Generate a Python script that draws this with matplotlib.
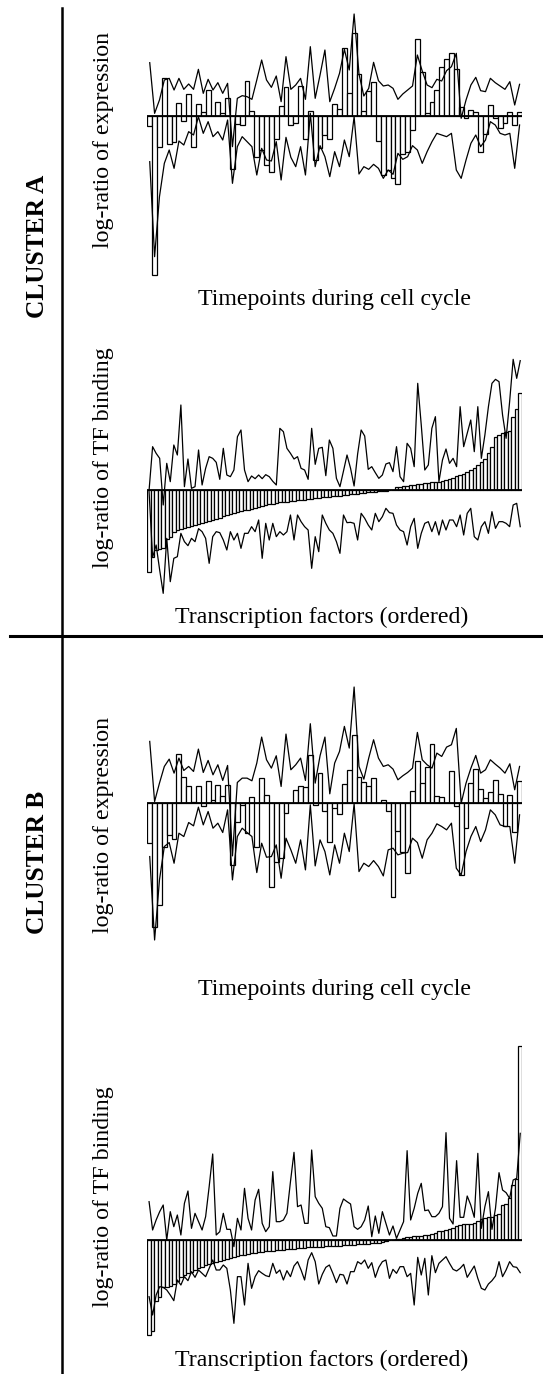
import numpy as np
import matplotlib.pyplot as plt
from matplotlib.lines import Line2D

plt.rcParams['font.family'] = ['Liberation Serif', 'DejaVu Serif']

# ---- cluster A, expression over 77 timepoints ----
a_expr = [-0.30, -4.77, -0.92, 1.15, -0.84, -0.79, 0.40, -0.15, 0.65, -0.92,
          0.36, 0.13, 0.77, 0.00, 0.43, 0.10, 0.54, -1.60, -0.24, -0.27,
          1.06, 0.16, -1.22, -1.02, -1.47, -1.67, -0.70, 0.30, 0.86, -0.27,
          -0.22, 0.90, -0.70, 0.15, -1.32, -0.97, -0.57, -0.70, 0.35, 0.21,
          2.03, 0.68, 2.48, 1.26, 0.16, 0.75, 1.02, -0.75, -1.77, -1.62,
          -1.87, -2.05, -1.14, -1.07, -0.42, 2.31, 1.33, 0.08, 0.43, 0.78,
          1.46, 1.71, 1.90, 1.40, 0.26, -0.07, 0.18, 0.11, -1.09, -0.54,
          0.32, -0.05, -0.37, -0.20, 0.13, -0.28, 0.11]
a_expr_hi = [1.60, 0.08, 0.48, 1.08, 1.13, 0.78, 1.13, 0.80, 0.96, 0.80,
             1.40, 0.68, 1.10, 0.78, 1.00, 0.68, 0.98, -0.92, 0.53, 0.61,
             0.58, 0.50, 1.08, 1.68, 1.08, 0.86, 1.20, 0.43, 1.78, 0.80,
             0.93, 1.13, 0.50, 2.08, 0.53, 1.23, 1.98, 0.43, 0.83, 1.28,
             2.00, 1.38, 3.06, 1.26, 0.60, 0.83, 1.61, 1.06, 0.90, 0.93,
             0.83, 0.50, 0.66, 0.78, 0.90, 1.83, 1.35, 0.93, 0.85, 1.10,
             1.05, 1.36, 1.48, 1.88, -0.07, 0.48, 0.93, 1.16, 0.76, 0.73,
             1.13, 1.00, 0.90, 0.80, 1.03, 0.33, 0.95]
a_expr_lo = [-1.37, -4.22, -2.42, -1.42, -1.02, -1.57, -0.75, -0.87, -0.47, -0.57,
             -0.02, -0.52, -0.17, -0.62, -0.47, -0.72, -0.12, -2.02, -0.92, -0.62,
             -0.77, -0.92, -1.77, -0.97, -1.32, -1.35, -0.77, -1.92, -0.64, -1.24,
             -1.52, -0.92, -1.77, 0.08, -1.52, -0.89, -1.22, -1.82, -1.07, -1.52,
             -0.72, -1.22, -0.02, -1.74, -1.52, -1.60, -1.45, -1.57, -1.87, -1.62,
             -1.75, -1.12, -1.30, -1.22, -0.89, -1.02, -1.42, -1.07, -0.77, -0.52,
             -0.57, -0.62, -0.52, -1.62, -1.87, -1.32, -0.82, -0.57, -0.92, -0.72,
             -0.17, -0.27, -0.52, -0.57, -0.52, -1.57, -0.27]

# ---- cluster A, TF binding over 106 ordered factors ----
a_tf = [-2.46, -2.00, -1.80, -1.76, -1.72, -1.47, -1.40, -1.24, -1.20, -1.17,
        -1.14, -1.11, -1.08, -1.05, -1.02, -0.99, -0.96, -0.93, -0.90, -0.86,
        -0.82, -0.78, -0.74, -0.70, -0.67, -0.64, -0.62, -0.60, -0.58, -0.56,
        -0.54, -0.51, -0.48, -0.45, -0.42, -0.40, -0.38, -0.36, -0.35, -0.34,
        -0.33, -0.31, -0.30, -0.29, -0.28, -0.26, -0.25, -0.23, -0.22, -0.21,
        -0.20, -0.19, -0.18, -0.17, -0.16, -0.14, -0.13, -0.12, -0.11, -0.10,
        -0.08, -0.07, -0.06, -0.05, -0.04, -0.02, -0.01, -0.005, 0.00, 0.01,
        0.10, 0.11, 0.12, 0.14, 0.15, 0.17, 0.18, 0.20, 0.21, 0.22,
        0.24, 0.25, 0.26, 0.28, 0.30, 0.33, 0.38, 0.42, 0.46, 0.50,
        0.56, 0.62, 0.68, 0.76, 0.84, 0.95, 1.12, 1.30, 1.60, 1.66,
        1.72, 1.76, 1.78, 2.20, 2.45, 2.92]
a_tf_hi = [0.00, 1.31, 1.11, 0.96, -0.44, 0.81, 0.26, 1.36, 1.06, 2.56,
           0.11, 0.94, 0.06, 0.11, 1.21, 0.16, 0.66, 1.01, 0.96, 0.84,
           0.33, 1.26, 0.46, 0.41, 0.61, 1.61, 1.81, 0.61, 0.26, 0.43,
           0.35, 0.46, 0.35, 0.47, 0.41, 0.27, 0.16, 1.86, 1.76,
           1.26, 1.11, 0.94, 1.01, 0.66, 0.61, 0.33, 1.86, 0.78, 1.26,
           1.29, 0.44, 1.51, 1.26, 0.36, 0.11, 0.58, 1.06, 0.66, 0.13,
           1.09, 1.81, 1.63, 0.63, 0.71, 0.53, 0.36, 0.46, 0.79, 0.83,
           0.56, 1.31, 0.41, 0.26, 1.41, 1.26, 0.71, 3.21, 1.96, 0.61,
           0.76, 1.86, 2.21, 0.26, 0.91, 1.24, 0.81, 0.96, 0.71, 2.51,
           1.31, 1.71, 2.11, 1.16, 2.51, 0.96, 1.66, 2.51, 3.21, 3.33,
           3.26, 2.26, 1.56, 2.66, 3.93, 3.36, 3.89]
a_tf_lo = [-0.04, -2.01, -1.64, -2.39, -3.09, -1.44, -2.74, -2.04, -1.99, -1.29,
           -1.54, -1.66, -1.44, -1.54, -1.15, -1.24, -1.44, -2.19, -1.39, -1.24,
           -1.27, -1.49, -1.79, -1.24, -1.49, -1.29, -1.74, -1.29, -1.29, -1.09,
           -1.24, -0.89, -2.04, -0.99, -1.49, -0.99, -1.39, -1.24, -1.34, -1.24,
           -0.74, -1.49, -0.74, -0.94, -1.09, -1.19, -2.34, -1.39, -1.84, -0.74,
           -0.99, -1.19, -1.29, -1.54, -1.89, -0.74, -0.97, -0.96, -0.99, -1.49,
           -0.69, -0.84, -1.04, -1.19, -0.69, -0.94, -0.79, -0.54, -0.67, -0.69,
           -1.04, -1.19, -1.24, -1.64, -1.09, -0.84, -1.74, -1.29, -0.99, -0.94,
           -1.24, -0.94, -1.34, -0.89, -1.19, -0.89, -0.89, -1.09, -0.74, -1.34,
           -0.69, -0.54, -1.39, -1.49, -1.09, -0.94, -1.29, -0.64, -1.14, -0.94,
           -0.94, -0.99, -1.09, -0.44, -0.39, -1.09]

# ---- cluster B, expression ----
b_expr = [-1.18, -3.70, -3.05, -1.32, -0.95, -1.08, 1.48, 0.78, 0.52, 0.04,
          0.50, -0.10, 0.65, 0.08, 0.55, 0.20, 0.55, -1.85, -0.55, -0.05,
          -0.90, 0.18, -1.30, 0.75, 0.23, -2.50, -1.75, -1.65, -0.28, 0.00,
          0.40, 0.52, 0.47, 1.43, -0.05, 0.90, -0.22, -1.15, -0.15, -0.33,
          0.58, 0.98, 2.04, 0.78, 0.63, 0.50, 0.75, 0.00, 0.09, -0.24,
          -2.80, -0.84, -1.45, -2.10, 0.35, 1.25, 0.60, 1.08, 1.77, 0.22,
          0.18, 0.00, 0.95, -0.08, -2.15, -0.75, 0.60, 1.02, 0.42, 0.15,
          0.33, 0.68, 0.27, -0.68, 0.25, -0.85, 0.65]
b_expr_hi = [1.85, 0.05, 0.60, 1.10, 1.32, 0.90, 1.35, 0.98, 1.10, 0.95,
             1.62, 0.92, 1.28, 0.85, 1.15, 0.68, 1.13, -1.58, 0.62, 0.75,
             0.75, 0.67, 1.20, 1.98, 1.30, 1.05, 1.42, 0.50, 2.07, 1.00,
             1.15, 1.35, 0.68, 2.38, 0.60, 1.42, 1.98, 0.28, 1.20, 1.55,
             2.30, 1.65, 3.48, 1.10, 0.72, 1.35, 1.90, 1.35, 1.10, 1.15,
             1.02, 0.70, 0.82, 0.92, 1.05, 2.12, 1.30, 1.15, 1.05, 1.50,
             1.40, 1.68, 1.75, 2.24, 0.00, 0.60, 1.05, 1.43, 0.90, 1.00,
             1.30, 1.17, 1.05, 0.90, 1.18, 0.40, 1.10]
b_expr_lo = [-1.60, -4.10, -2.30, -1.30, -1.18, -1.80, -0.90, -1.00, -0.58, -0.68,
             -0.12, -0.65, -0.25, -0.75, -0.60, -0.88, -0.20, -2.30, -1.00, -0.75,
             -0.88, -1.00, -2.08, -1.20, -1.62, -1.60, -1.25, -2.25, -1.05, -1.40,
             -1.80, -1.10, -2.00, -0.05, -1.88, -1.10, -1.45, -2.15, -1.25, -1.80,
             -0.90, -1.45, -0.02, -2.05, -1.80, -1.90, -1.72, -1.90, -2.18, -1.40,
             -1.35, -1.55, -1.50, -1.48, -1.05, -1.18, -1.65, -1.10, -0.90, -0.62,
             -0.70, -0.80, -0.60, -1.95, -2.15, -1.45, -1.00, -0.70, -1.15, -0.80,
             -0.20, -0.35, -0.65, -0.70, -0.70, -1.80, -0.35]

# ---- cluster B, TF binding ----
b_tf = [-2.85, -2.72, -1.82, -1.72, -1.42, -1.40, -1.38, -1.32, -1.22, -1.12,
        -1.06, -1.00, -0.95, -0.90, -0.85, -0.80, -0.76, -0.72, -0.68, -0.65,
        -0.62, -0.60, -0.57, -0.54, -0.51, -0.48, -0.46, -0.44, -0.42, -0.40,
        -0.38, -0.37, -0.35, -0.34, -0.33, -0.32, -0.31, -0.30, -0.29, -0.28,
        -0.27, -0.26, -0.25, -0.24, -0.23, -0.22, -0.21, -0.21, -0.20, -0.20,
        -0.19, -0.18, -0.18, -0.17, -0.17, -0.16, -0.15, -0.15, -0.14, -0.13,
        -0.12, -0.12, -0.11, -0.10, -0.09, -0.08, -0.06, -0.02, 0.00, 0.01,
        0.02, 0.04, 0.06, 0.08, 0.10, 0.11, 0.12, 0.13, 0.14, 0.16,
        0.18, 0.20, 0.26, 0.28, 0.30, 0.32, 0.36, 0.42, 0.46, 0.47,
        0.48, 0.49, 0.52, 0.56, 0.62, 0.66, 0.68, 0.70, 0.74, 0.78,
        1.05, 1.08, 1.25, 1.65, 1.82, 5.82]
b_tf_hi = [1.15, 0.30, 0.60, 0.85, 1.05, 0.00, 0.85, 0.40, 0.75, 0.15,
           1.10, 1.47, 0.35, 0.80, 0.55, 0.30, 0.70, 1.60, 2.58, 0.15,
           0.25, 0.80, 0.32, 0.32, -0.20, 0.65, 0.30, 1.55, 0.65, 0.30,
           1.20, 1.52, 0.50, 0.25, 0.40, 2.05, 0.55, 0.55, 0.60, 0.80,
           1.75, 2.63, 1.00, 1.05, 0.50, 0.50, 2.70, 1.30, 1.10, 0.95,
           0.40, 0.37, 0.12, 0.12, 0.95, 1.23, 1.15, 1.08, 0.40, 0.32,
           0.40, 0.60, 1.02, 0.10, 0.72, 0.20, 0.85, 0.50, 0.15, 0.42,
           0.05, 0.30, 0.55, 2.68, 0.60, 0.95, 1.40, 1.70, 0.88, 0.90,
           0.70, 0.70, 0.80, 1.00, 3.22, 0.65, 0.48, 2.38, 0.68, 0.68,
           1.32, 1.05, 0.68, 2.60, 0.35, 1.00, 1.45, 0.32, 0.95, 2.02,
           1.50, 1.42, 1.25, 1.80, 1.85, 3.20]
b_tf_lo = [-1.70, -2.25, -1.65, -1.40, -1.42, -1.50, -1.65, -1.82, -1.20, -1.35,
           -1.10, -1.22, -0.95, -1.12, -0.90, -1.00, -1.10, -0.85, -0.60, -0.90,
           -0.90, -0.75, -0.85, -1.50, -2.50, -1.10, -1.10, -1.95, -0.70, -1.45,
           -1.10, -0.92, -1.00, -1.07, -1.10, -0.70, -1.00, -0.90, -1.20, -0.92,
           -1.10, -0.78, -0.65, -0.90, -1.20, -0.60, -0.38, -0.65, -1.32, -1.03,
           -0.82, -0.75, -1.00, -1.28, -1.03, -1.05, -1.32, -0.95, -0.95, -0.65,
           -0.72, -0.60, -0.85, -0.68, -1.12, -0.82, -0.65, -0.60, -1.15, -0.88,
           -1.00, -0.80, -0.80, -1.10, -1.00, -1.95, -0.52, -1.05, -0.55, -1.65,
           -0.47, -0.98, -0.70, -0.60, -0.50, -0.70, -0.88, -0.93, -0.85, -0.73,
           -1.12, -0.95, -0.78, -1.15, -1.45, -1.50, -1.32, -1.22, -1.08, -0.65,
           -1.10, -0.90, -0.65, -0.80, -0.82, -0.98]

W, H = 543, 1374
fig = plt.figure(figsize=(W / 100, H / 100), dpi=100)

# panel boxes in pixels: (top, bottom, ylim, bar edge width)
panels = [
    (a_expr, a_expr_hi, a_expr_lo, 5, 285, (-5.07, 3.33), 0.9),
    (a_tf, a_tf_hi, a_tf_lo, 350, 600, (-3.29, 4.21), 0.9),
    (b_expr, b_expr_hi, b_expr_lo, 670, 950, (-4.40, 3.99), 0.9),
    (b_tf, b_tf_hi, b_tf_lo, 1030, 1340, (-3.0, 6.3), 0.9),
]
x0, x1 = 147.3, 522.0

for vals, hi, lo, top, bot, ylim, blw in panels:
    assert len(vals) == len(hi) == len(lo)
    n = len(vals)
    ax = fig.add_axes([x0 / W, 1 - bot / H, (x1 - x0) / W, (bot - top) / H])
    xs = np.arange(n)
    ax.bar(xs, vals, width=1.0, color='white', edgecolor='black', linewidth=blw)
    ax.plot([-0.5, n - 0.5], [0, 0], color='black', lw=1.3)
    ax.plot(xs, hi, color='black', lw=0.9)
    ax.plot(xs, lo, color='black', lw=0.9)
    ax.set_xlim(-0.5, n - 0.5)
    ax.set_ylim(*ylim)
    ax.axis('off')

def ftext(x, y, s, **kw):
    fig.text(x / W, 1 - y / H, s, ha='center', va='center', **kw)

ftext(37, 246, 'CLUSTER A', rotation=90, fontsize=18.3, fontweight='bold')
ftext(37, 862, 'CLUSTER B', rotation=90, fontsize=18.3, fontweight='bold')
ftext(103, 140, 'log-ratio of expression', rotation=90, fontsize=17.2)
ftext(103, 458, 'log-ratio of TF binding', rotation=90, fontsize=17.2)
ftext(103, 825, 'log-ratio of expression', rotation=90, fontsize=17.2)
ftext(103, 1197, 'log-ratio of TF binding', rotation=90, fontsize=17.2)
ftext(335, 300, 'Timepoints during cell cycle', fontsize=17.2)
ftext(322, 617, 'Transcription factors (ordered)', fontsize=17.2)
ftext(335, 990, 'Timepoints during cell cycle', fontsize=17.2)
ftext(322, 1360, 'Transcription factors (ordered)', fontsize=17.2)

fig.add_artist(Line2D([62 / W, 62 / W], [1 - 8 / H, 0], color='black', lw=1.8,
                      transform=fig.transFigure))
fig.add_artist(Line2D([10 / W, 1], [1 - 636 / H, 1 - 636 / H], color='black', lw=2.2,
                      transform=fig.transFigure))

fig.savefig('out.png', dpi=100)
